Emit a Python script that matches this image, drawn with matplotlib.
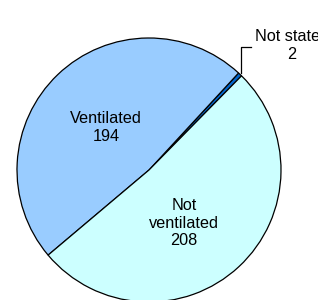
import matplotlib
matplotlib.use("Agg")
import matplotlib.pyplot as plt
from matplotlib.transforms import Bbox, TransformedBbox

categories = ["Not stated", "Ventilated", "Not ventilated"]
values = [2, 194, 208]
colors = ["#0066CC", "#99CCFF", "#CCFFFF"]

plt.rcParams['font.family'] = ['Liberation Sans', 'DejaVu Sans']

fig = plt.figure(figsize=(3.32, 3.00), dpi=100)
ax = fig.add_axes([0, 0, 1, 1])

cx, cy, r = 149, 130, 132
ax.pie(values, colors=colors, startangle=45.5, counterclock=True,
       center=(cx, cy), radius=r, frame=True,
       wedgeprops=dict(edgecolor='black', linewidth=0.9))
ax.set_xlim(0, 332)
ax.set_ylim(0, 300)
ax.set_aspect('equal')
ax.axis('off')

fs = 11.7
ls = 1.2
ax.text(106, 172.5, f"{categories[1]}\n{values[1]}", ha='center', va='center',
        fontsize=fs, linespacing=ls)
ax.text(184, 77, f"Not\nventilated\n{values[2]}", ha='center', va='center',
        fontsize=fs, linespacing=ls)
t = ax.text(292, 254.5, f"{categories[0]}\n{values[0]}", ha='center', va='center',
            fontsize=fs, linespacing=ls)
t.set_clip_path(None)
t.set_clip_box(TransformedBbox(Bbox([[0, 0], [318, 300]]), ax.transData))
t.set_clip_on(True)

# leader line
ax.plot([241, 241, 251], [227, 253, 253], color='black', linewidth=0.9)

fig.savefig("out.png", dpi=100)
